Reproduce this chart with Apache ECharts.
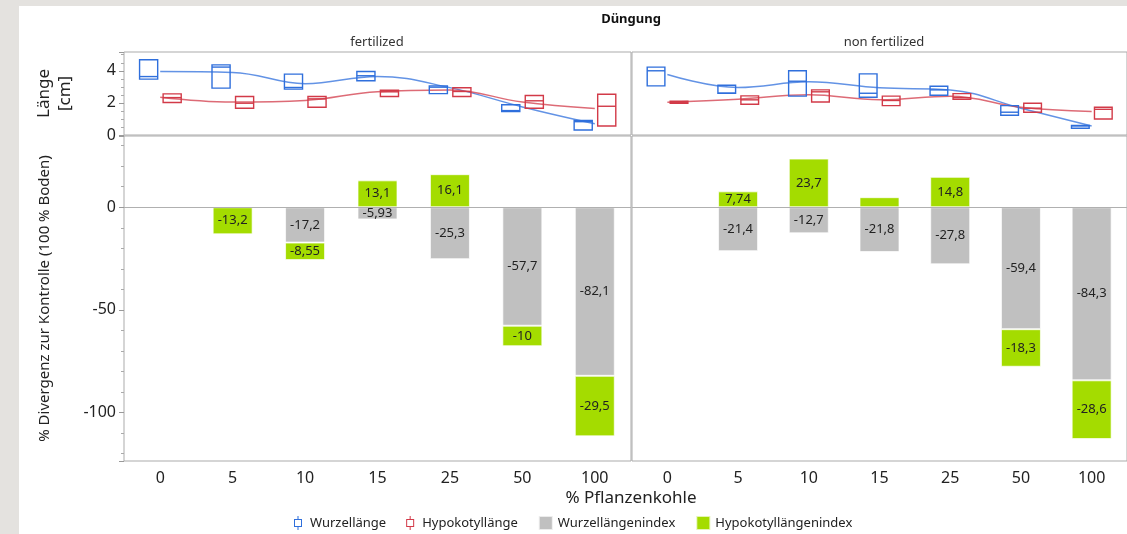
<!DOCTYPE html>
<html>
<head>
<meta charset="utf-8">
<script src="https://cdn.jsdelivr.net/npm/echarts@6/dist/echarts.min.js"></script>
<style>
  html, body { margin: 0; padding: 0; height: 100%; background: #e4e2df; }
  #paper { position: absolute; left: 19px; top: 6px; right: 0; bottom: 0; background: #fff; }
  #chart { position: absolute; left: 0; top: 0; width: 1127px; height: 534px; }
</style>
</head>
<body>
<div id="paper"></div>
<div id="chart"></div>
<script>
const doses = ['0', '5', '10', '15', '25', '50', '100'];

// Länge [cm] boxes: [Q1, median, Q3]
const rootBoxFert = [[3.48, 3.64, 4.69], [2.92, 4.23, 4.37], [2.86, 2.96, 3.79], [3.38, 3.69, 3.96], [2.58, 2.98, 3.06], [1.46, 1.52, 1.88], [0.31, 0.83, 0.90]];
const hypoBoxFert = [[2.02, 2.33, 2.56], [1.67, 1.98, 2.40], [1.73, 2.25, 2.40], [2.40, 2.69, 2.79], [2.40, 2.71, 2.94], [1.67, 2.13, 2.46], [0.56, 1.79, 2.54]];
const rootBoxNon = [[3.06, 4.00, 4.23], [2.60, 2.60, 3.10], [2.42, 3.35, 4.00], [2.35, 2.60, 3.81], [2.48, 2.81, 3.04], [1.23, 1.42, 1.83], [0.42, 0.56, 0.60]];
const hypoBoxNon = [[1.98, 2.04, 2.10], [1.92, 2.19, 2.44], [2.06, 2.69, 2.81], [1.83, 2.15, 2.42], [2.23, 2.33, 2.58], [1.42, 1.67, 1.98], [1.00, 1.60, 1.73]];

// smoothed fit lines
const rootFitFert = [3.95, 3.9, 3.2, 3.65, 2.95, 1.75, 0.7];
const hypoFitFert = [2.35, 2.05, 2.15, 2.7, 2.8, 2.05, 1.65];
const rootFitNon = [3.77, 2.96, 3.31, 2.94, 2.81, 1.67, 0.56];
const hypoFitNon = [2.04, 2.23, 2.5, 2.19, 2.42, 1.73, 1.46];

// % Divergenz zur Kontrolle
const rootIdxFert = [null, null, -17.2, -5.93, -25.3, -57.7, -82.1];
const hypoIdxFert = [null, -13.2, -8.55, 13.1, 16.1, -10, -29.5];
const rootIdxNon = [null, -21.4, -12.7, -21.8, -27.8, -59.4, -84.3];
const hypoIdxNon = [null, 7.74, 23.7, 4.9, 14.8, -18.3, -28.6];

const FONT = '"Noto Sans", sans-serif';
const BLUE = '#2f6fdc';
const RED = '#d23a48';
const GRAY = '#c0c0c0';
const GREEN = '#a4dc00';
const BOX_ICON = 'path://M0,3 H8 V11 H0 Z M1,4 V10 H7 V4 Z M3.5,0 H4.5 V3 H3.5 Z M3.5,11 H4.5 V14 H3.5 Z';

function boxSeries(name, data, g, color, shift) {
  return {
    name: name,
    type: 'custom',
    xAxisIndex: g,
    yAxisIndex: g,
    itemStyle: { color: color },
    encode: { x: 0, y: [1, 2, 3] },
    data: data.map((b, i) => [i, b[0], b[1], b[2]]),
    z: 3,
    renderItem(params, api) {
      const band = api.size([1, 0])[0];
      const cx = api.coord([api.value(0), 0])[0] + shift * band;
      const top = api.coord([api.value(0), api.value(3)])[1];
      const bot = api.coord([api.value(0), api.value(1)])[1];
      const med = api.coord([api.value(0), api.value(2)])[1];
      const hw = band * 0.125;
      return {
        type: 'group',
        children: [
          { type: 'rect', shape: { x: cx - hw, y: top, width: hw * 2, height: Math.max(bot - top, 1) },
            style: { fill: 'none', stroke: color, lineWidth: 1.4 } },
          { type: 'line', shape: { x1: cx - hw, y1: med, x2: cx + hw, y2: med },
            style: { stroke: color, lineWidth: 1.4 } }
        ]
      };
    }
  };
}

function fitSeries(name, data, g, color) {
  return {
    name: name,
    type: 'line',
    xAxisIndex: g,
    yAxisIndex: g,
    data: data,
    smooth: 0.4,
    symbol: 'none',
    lineStyle: { color: color, width: 1.5, opacity: 0.75 },
    itemStyle: { color: color },
    z: 2
  };
}

function barSeries(name, data, g, color, stack, zeroLine) {
  const s = {
    name: name,
    type: 'bar',
    xAxisIndex: g,
    yAxisIndex: g,
    stack: stack,
    barWidth: 40,
    data: data,
    itemStyle: { color: color, borderColor: 'rgba(255,255,255,0.7)', borderWidth: 1 },
    label: {
      show: true,
      position: 'inside',
      color: '#222',
      fontSize: 13,
      fontFamily: FONT,
      formatter: p => (Math.abs(p.value) < 5.5 ? '' : String(p.value).replace('.', ','))
    }
  };
  if (zeroLine) {
    s.markLine = {
      silent: true,
      symbol: 'none',
      label: { show: false },
      lineStyle: { color: '#b0b0b0', width: 1, type: 'solid' },
      data: [{ yAxis: 0 }]
    };
  }
  return s;
}

const chart = echarts.init(document.getElementById('chart'));

const gridStyle = { show: true, borderColor: '#ababab', borderWidth: 1, backgroundColor: 'transparent' };

const topY = {
  type: 'value', min: 0, max: 5.17, splitNumber: 3,
  axisLine: { show: false },
  axisTick: { show: true, length: 5, lineStyle: { color: '#999' } },
  minorTick: { show: true, splitNumber: 4, length: 3, lineStyle: { color: '#aaa' } },
  splitLine: { show: false },
  axisLabel: { fontSize: 16, color: '#222', fontFamily: FONT, margin: 8,
    formatter: v => (Math.abs(v % 2) < 1e-9 ? String(v) : '') }
};
const botY = {
  type: 'value', min: -123.6, max: 34.7, splitNumber: 3,
  axisLine: { show: false },
  axisTick: { show: true, length: 5, lineStyle: { color: '#999' } },
  minorTick: { show: true, splitNumber: 5, length: 3, lineStyle: { color: '#aaa' } },
  splitLine: { show: false },
  axisLabel: { fontSize: 16, color: '#222', fontFamily: FONT, margin: 8,
    formatter: v => (Math.abs(v % 50) < 1e-9 ? String(v) : '') }
};

const option = {
  animation: false,
  grid: [
    Object.assign({ left: 124, top: 52, width: 507, height: 83 }, gridStyle),
    Object.assign({ left: 632, top: 52, width: 507, height: 83 }, gridStyle),
    Object.assign({ left: 124, top: 136, width: 507, height: 325 }, gridStyle),
    Object.assign({ left: 632, top: 136, width: 507, height: 325 }, gridStyle)
  ],
  xAxis: [0, 1, 2, 3].map(i => ({
    type: 'category',
    gridIndex: i,
    data: doses,
    axisLine: { show: false },
    axisTick: { show: false },
    splitLine: { show: false },
    axisLabel: { show: i >= 2, fontSize: 16, color: '#222', fontFamily: FONT, margin: 9 }
  })),
  yAxis: [
    Object.assign({}, topY, {
      gridIndex: 0,
      name: 'Länge\n[cm]',
      nameLocation: 'middle',
      nameRotate: 90,
      nameGap: 48,
      nameTextStyle: { fontSize: 17, lineHeight: 21, color: '#222', fontFamily: FONT }
    }),
    Object.assign({}, topY, { gridIndex: 1, show: false }),
    Object.assign({}, botY, {
      gridIndex: 2,
      name: '% Divergenz zur Kontrolle (100 % Boden)',
      nameLocation: 'middle',
      nameRotate: 90,
      nameGap: 72,
      nameTextStyle: { fontSize: 15, color: '#222', fontFamily: FONT }
    }),
    Object.assign({}, botY, { gridIndex: 3, show: false })
  ],
  legend: {
    left: 294,
    top: 515,
    padding: 0,
    itemWidth: 14,
    itemHeight: 14,
    itemGap: 20,
    textStyle: { fontSize: 13, color: '#222', fontFamily: FONT },
    data: [
      { name: 'Wurzellänge', icon: BOX_ICON },
      { name: 'Hypokotyllänge', icon: BOX_ICON },
      { name: 'Wurzellängenindex', icon: 'rect' },
      { name: 'Hypokotyllängenindex', icon: 'rect' }
    ]
  },
  graphic: [
    { type: 'text', x: 631, y: 19, style: { text: 'Düngung', fontSize: 13, fontWeight: 'bold', fontFamily: FONT, fill: '#111', align: 'center', verticalAlign: 'middle' } },
    { type: 'text', x: 377, y: 42, style: { text: 'fertilized', fontSize: 13, fontFamily: FONT, fill: '#333', align: 'center', verticalAlign: 'middle' } },
    { type: 'text', x: 884, y: 42, style: { text: 'non fertilized', fontSize: 13, fontFamily: FONT, fill: '#333', align: 'center', verticalAlign: 'middle' } },
    { type: 'text', x: 631, y: 498, style: { text: '% Pflanzenkohle', fontSize: 17, fontFamily: FONT, fill: '#222', align: 'center', verticalAlign: 'middle' } }
  ],
  series: [
    boxSeries('Wurzellänge', rootBoxFert, 0, BLUE, -0.16),
    boxSeries('Hypokotyllänge', hypoBoxFert, 0, RED, 0.165),
    boxSeries('Wurzellänge', rootBoxNon, 1, BLUE, -0.16),
    boxSeries('Hypokotyllänge', hypoBoxNon, 1, RED, 0.165),
    fitSeries('Wurzellänge', rootFitFert, 0, BLUE),
    fitSeries('Hypokotyllänge', hypoFitFert, 0, RED),
    fitSeries('Wurzellänge', rootFitNon, 1, BLUE),
    fitSeries('Hypokotyllänge', hypoFitNon, 1, RED),
    barSeries('Wurzellängenindex', rootIdxFert, 2, GRAY, 'fert', true),
    barSeries('Hypokotyllängenindex', hypoIdxFert, 2, GREEN, 'fert', false),
    barSeries('Wurzellängenindex', rootIdxNon, 3, GRAY, 'non', true),
    barSeries('Hypokotyllängenindex', hypoIdxNon, 3, GREEN, 'non', false)
  ]
};

chart.setOption(option);
</script>
</body>
</html>
